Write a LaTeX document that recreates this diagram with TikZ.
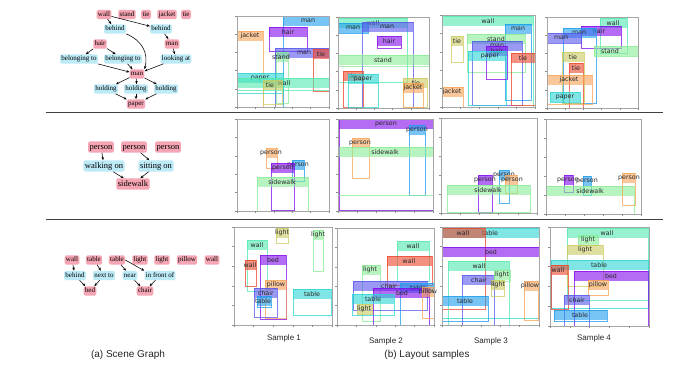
\documentclass[tikz,border=0pt]{standalone}
\usepackage{fontspec}
\setmainfont{Liberation Serif}
\newfontfamily\lblfont{DejaVu Sans}
\newfontfamily\capfont{Liberation Sans}
\usetikzlibrary{arrows.meta}
\definecolor{sgpink}{HTML}{F5A5B3}
\definecolor{sgblue}{HTML}{BDEAF7}
\definecolor{cAqua}{HTML}{50E9AF}
\definecolor{cGreen}{HTML}{89ED96}
\definecolor{cCyan}{HTML}{2BD5D5}
\definecolor{cBlue}{HTML}{1E9DED}
\definecolor{cIndigo}{HTML}{5757ED}
\definecolor{cPurple}{HTML}{820AED}
\definecolor{cOrange}{HTML}{F7A357}
\definecolor{cRed}{HTML}{EE462B}
\definecolor{cKhaki}{HTML}{CBCB61}
\definecolor{sepgray}{HTML}{404040}
\newcounter{lbc}
\newcommand\lbx[7]{%
  \stepcounter{lbc}%
  \fill[#5,fill opacity=0.6] (#1,#2) rectangle ({#3},{min(#2+10,#4)});
  \draw[#5,line width=0.7pt,draw opacity=0.75] (#1,#2) rectangle (#3,#4);
  \node[lbl] (lb\thelbc) at (#7,#2+5) {#6};
}
\newcommand\pfr[4]{%
  \draw[panelframe] (#1,#2) rectangle (#3,#4);
  \foreach \k in {0,...,5}{%
    \draw[tickm] ({#1+\k*(#3-#1)/5},#4) -- ++(0,1.8);
    \draw[tickm] (#1,{#2+\k*(#4-#2)/5}) -- ++(-1.8,0);
  }%
}
\begin{document}
\begin{tikzpicture}[x=1pt,y=-1pt,
  obj/.style={fill=sgpink, rounded corners=1.5pt, inner sep=1.3pt,
    font=\fontsize{7}{8}\selectfont, text height=5pt, text depth=1.6pt},
  rel/.style={obj, fill=sgblue},
  objb/.style={obj, font=\fontsize{8.5}{9}\selectfont, text height=6pt, text depth=1.9pt, inner sep=1.6pt},
  relb/.style={objb, fill=sgblue},
  arr/.style={-{Stealth[length=3.2pt,width=2.6pt]}, line width=0.55pt, black},
  lbl/.style={font=\lblfont\fontsize{6.3}{7}\selectfont, inner sep=0pt, text=black!85},
  panelframe/.style={draw=black!35, line width=0.8pt},
  tickm/.style={draw=black!45, line width=0.4pt},
  smp/.style={font=\capfont\fontsize{8}{9}\selectfont, inner sep=0pt, text=black!85},
  captext/.style={font=\capfont\fontsize{10}{11}\selectfont, inner sep=0pt, text=black!85},
  sepline/.style={draw=sepgray, line width=0.9pt}]
\useasboundingbox (0,0) rectangle (673,379);
\fill[white] (0,0) rectangle (673,379);

% ---------------- scene graph 1 ----------------
\node[obj] (w1) at (104,14.5) {wall};
\node[obj] (st) at (127,14.5) {stand};
\node[obj] (t1) at (146,14.5) {tie};
\node[obj] (jk) at (167,14.5) {jacket};
\node[obj] (t2) at (186,14.5) {tie};
\node[rel] (bh1) at (115,29) {behind};
\node[rel] (bh2) at (161,29) {behind};
\node[obj] (hair) at (100,44) {hair};
\node[obj] (man2) at (172,44) {man};
\node[rel] (bel1) at (79,59) {belonging to};
\node[rel] (bel2) at (123,59) {belonging to};
\node[rel] (look) at (176,59) {looking at};
\node[obj] (man) at (137,74) {man};
\node[rel] (h1) at (106,89) {holding};
\node[rel] (h2) at (136,89) {holding};
\node[rel] (h3) at (166,89) {holding};
\node[obj] (paper) at (136,104) {paper};
\draw[arr] (w1) -- (bh1);
\draw[arr] (w1) -- (bh2);
\draw[arr] (bh1.south east) .. controls (141,40) and (149,52) .. (man.north east);
\draw[arr] (bh2) -- (man2);
\draw[arr] (hair) -- (bel1);
\draw[arr] (hair) -- (bel2);
\draw[arr] (bel1) -- (man);
\draw[arr] (bel2) -- (man);
\draw[arr] (man2) -- (look);
\draw[arr] (look) -- (man);
\draw[arr] (man) -- (h1);
\draw[arr] (man) -- (h2);
\draw[arr] (man) -- (h3);
\draw[arr] (h1) -- (paper);
\draw[arr] (h2) -- (paper);
\draw[arr] (h3) -- (paper);

% ---------------- scene graph 2 ----------------
\node[objb] (p1) at (101,147) {person};
\node[objb] (p2) at (134,147) {person};
\node[objb] (p3) at (168,147) {person};
\node[relb] (wo) at (104,166) {walking on};
\node[relb] (so) at (156,166) {sitting on};
\node[objb] (sw) at (133,184) {sidewalk};
\draw[arr] (p1) -- (wo);
\draw[arr] (p2) -- (so);
\draw[arr] (wo) -- (sw);
\draw[arr] (so) -- (sw);

% ---------------- scene graph 3 ----------------
\node[obj] (gw1) at (72,260) {wall};
\node[obj] (gt1) at (94,260) {table};
\node[obj] (gt2) at (117,260) {table};
\node[obj] (gl1) at (140,260) {light};
\node[obj] (gl2) at (162,260) {light};
\node[obj] (gp) at (187,260) {pillow};
\node[obj] (gw2) at (212,260) {wall};
\node[rel] (gbh) at (75,275.5) {behind};
\node[rel] (gnx) at (104,275.5) {next to};
\node[rel] (gnr) at (130,275.5) {near};
\node[rel] (gif) at (160,275.5) {in front of};
\node[obj] (gbed) at (90,291) {bed};
\node[obj] (gch) at (145,291) {chair};
\draw[arr] (gw1) -- (gbh);
\draw[arr] (gt1) -- (gnx);
\draw[arr] (gbh) -- (gbed);
\draw[arr] (gnx) -- (gbed);
\draw[arr] (gt2) -- (gnr);
\draw[arr] (gt2.east) -- (gif.north west);
\draw[arr] (gnr) -- (gch);
\draw[arr] (gif) -- (gch);

% ---------------- separators ----------------
\coordinate (sa1) at (46,112.5); \coordinate (sa2) at (663,112.5);
\coordinate (sb1) at (46,219); \coordinate (sb2) at (663,219);
\draw[sepline] (sa1) -- (sa2);
\draw[sepline] (sb1) -- (sb2);

% ---------------- row 1 ----------------
\lbx{283}{16}{329}{107}{cBlue}{man}{308}
\lbx{237}{31}{263}{107}{cOrange}{jacket}{250}
\lbx{269}{27}{307}{51}{cPurple}{hair}{288}
\lbx{275}{48}{329}{107}{cIndigo}{man}{304}
\lbx{276}{52}{288}{103}{cGreen}{stand}{281}
\lbx{313}{49}{329}{91}{cRed}{tie}{321}
\lbx{237}{73}{283}{93}{cCyan}{paper}{260}
\lbx{237}{78}{329}{90}{cAqua}{wall}{284}
\lbx{263}{80}{282}{104}{cKhaki}{tie}{270}
\pfr{237}{16}{329}{107}

\lbx{338}{18}{407}{82}{cAqua}{wall}{373}
\lbx{338}{23}{368}{33}{cBlue}{man}{353}
\lbx{362}{22}{413}{108}{cIndigo}{man}{387}
\lbx{377}{36}{401}{48}{cPurple}{hair}{389}
\lbx{338}{55}{429}{66}{cGreen}{stand}{383}
\lbx{343}{71}{363}{107}{cRed}{tie}{352}
\lbx{348}{74}{378}{107}{cCyan}{paper}{363}
\lbx{403}{78}{427}{107}{cKhaki}{tie}{416}
\lbx{403}{83}{423}{107}{cOrange}{jacket}{413}
\pfr{338}{17}{429}{108}

\lbx{442}{16}{533}{107}{cAqua}{wall}{488}
\lbx{505}{24}{531}{100}{cBlue}{man}{518}
\lbx{451}{36}{463}{62}{cKhaki}{tie}{457}
\lbx{467}{34}{525}{72}{cGreen}{stand}{496}
\lbx{472}{41}{522}{105}{cIndigo}{man}{497}
\lbx{486}{46}{507}{79}{cPurple}{hair}{497}
\lbx{468}{51}{506}{105}{cCyan}{paper}{490}
\lbx{511}{53}{535}{105}{cRed}{tie}{523}
\lbx{442}{87}{463}{107}{cOrange}{jacket}{452}
\pfr{442}{15}{535}{107}

\lbx{600}{18}{627}{53}{cAqua}{wall}{613}
\lbx{581}{26}{621}{48}{cPurple}{hair}{599}
\lbx{563}{28}{596}{103}{cBlue}{man}{579}
\lbx{547}{33}{581}{43}{cIndigo}{man}{561}
\lbx{594}{46}{638}{56}{cGreen}{stand}{610}
\lbx{562}{52}{584}{103}{cKhaki}{tie}{573}
\lbx{569}{63}{583}{108}{cRed}{tie}{576}
\lbx{547}{75}{592}{104}{cOrange}{jacket}{569}
\lbx{550}{92}{580}{102}{cCyan}{paper}{565}
\pfr{547}{17}{638}{108}

% ---------------- row 2 ----------------
\lbx{266}{148}{277}{168}{cOrange}{person}{271}
\lbx{292}{160}{304}{181}{cBlue}{person}{298}
\lbx{271}{163}{294}{210}{cPurple}{person}{283}
\lbx{257}{177}{308}{211}{cGreen}{sidewalk}{282}
\pfr{237}{119}{329}{211}

\lbx{339}{119}{433}{210}{cPurple}{person}{386}
\lbx{409}{125}{425}{195}{cBlue}{person}{417}
\lbx{352}{138}{369}{178}{cOrange}{person}{360}
\lbx{338}{147}{433}{195}{cGreen}{sidewalk}{385}
\pfr{338}{119}{433}{211}

\lbx{478}{175}{492}{212}{cPurple}{person}{485}
\lbx{499}{170}{509}{203}{cBlue}{person}{504}
\lbx{505}{175}{517}{193}{cOrange}{person}{512}
\lbx{447}{185}{530}{212}{cGreen}{sidewalk}{488}
\pfr{441}{118}{537}{213}

\lbx{564}{175}{573}{192}{cPurple}{person}{568}
\lbx{583}{176}{591}{195}{cBlue}{person}{587}
\lbx{546}{186}{634}{214}{cGreen}{sidewalk}{590}
\lbx{622}{173}{635}{205}{cOrange}{person}{629}
\pfr{546}{119}{641}{214}

% ---------------- row 3 ----------------
\lbx{276}{228}{288}{243}{cKhaki}{light}{282}
\lbx{313}{230}{323}{271}{cGreen}{light}{318}
\lbx{247}{240}{267}{291}{cAqua}{wall}{257}
\lbx{245}{260}{256}{286}{cRed}{wall}{250}
\lbx{260}{255}{286}{319}{cPurple}{bed}{273}
\lbx{265}{280}{286}{318}{cOrange}{pillow}{276}
\lbx{254}{288}{277}{317}{cIndigo}{chair}{266}
\lbx{257}{296}{271}{307}{cBlue}{table}{263}
\lbx{293}{289}{331}{315}{cCyan}{table}{312}
\pfr{234}{227}{332}{325}

\lbx{397}{241}{429}{281}{cAqua}{wall}{413}
\lbx{387}{256}{432}{285}{cRed}{wall}{409}
\lbx{362}{265}{380}{321}{cGreen}{light}{370}
\lbx{353}{281}{427}{310}{cIndigo}{chair}{389}
\lbx{400}{283}{434}{325}{cBlue}{table}{418}
\lbx{373}{288}{429}{325}{cPurple}{bed}{402}
\lbx{422}{287}{434}{318}{cOrange}{pillow}{428}
\lbx{352}{294}{394}{315}{cCyan}{table}{373}
\lbx{357}{304}{372}{314}{cKhaki}{light}{364}
\pfr{337}{228}{434}{325}

\lbx{442}{228}{539}{318}{cCyan}{table}{490}
\lbx{442}{228}{485}{309}{cRed}{wall}{463}
\lbx{442}{247}{539}{325}{cPurple}{bed}{491}
\lbx{448}{261}{509}{325}{cAqua}{wall}{479}
\lbx{462}{275}{494}{325}{cIndigo}{chair}{479}
\lbx{494}{270}{510}{281}{cGreen}{light}{502}
\lbx{491}{280}{504}{296}{cKhaki}{light}{498}
\lbx{524}{281}{538}{320}{cOrange}{pillow}{530}
\lbx{442}{296}{488}{321}{cBlue}{table}{465}
\pfr{442}{227}{539}{325}

\lbx{567}{228}{648}{300}{cAqua}{wall}{607}
\lbx{578}{235}{598}{245}{cGreen}{light}{588}
\lbx{567}{245}{603}{286}{cKhaki}{light}{585}
\lbx{551}{260}{648}{308}{cCyan}{table}{599}
\lbx{551}{265}{568}{309}{cRed}{wall}{558}
\lbx{574}{271}{648}{326}{cPurple}{bed}{611}
\lbx{588}{280}{608}{295}{cOrange}{pillow}{598}
\lbx{564}{295}{589}{326}{cIndigo}{chair}{577}
\lbx{554}{310}{607}{321}{cBlue}{table}{580}
\pfr{550}{227}{649}{326}

% ---------------- labels ----------------
\node[smp] (s1) at (284,338) {Sample 1};
\node[smp] (s2) at (386,341) {Sample 2};
\node[smp] (s3) at (491,341) {Sample 3};
\node[smp] (s4) at (594,338) {Sample 4};
\node[captext] (ca) at (128,355) {(a) Scene Graph};
\node[captext] (cb) at (427,355) {(b) Layout samples};
\end{tikzpicture}
\end{document}
